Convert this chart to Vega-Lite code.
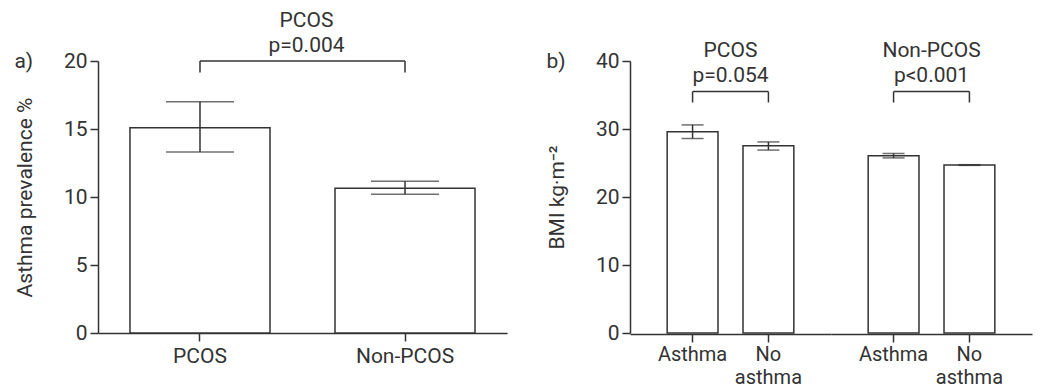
{
  "$schema": "https://vega.github.io/schema/vega-lite/v6.json",
  "background": "white",
  "padding": {"left": 14, "top": 10, "right": 5, "bottom": 0},
  "config": {
    "view": {"stroke": null},
    "font": "Roboto",
    "axis": {
      "domainColor": "#333333", "tickColor": "#333333", "labelColor": "#333333", "titleColor": "#333333",
      "domainWidth": 1.5, "tickWidth": 1.5, "labelFontSize": 21, "titleFontSize": 21, "titleFontWeight": "normal",
      "labelFont": "Roboto", "titleFont": "Roboto", "tickSize": 8, "grid": false, "labelPadding": 3
    },
    "title": {"fontSize": 21, "fontWeight": "normal", "color": "#333333", "font": "Roboto", "anchor": "start", "frame": "bounds"},
    "concat": {"spacing": 39}
  },
  "hconcat": [
    {
      "title": {"text": "a)", "dy": 66},
      "width": 409,
      "height": 272,
      "data": {"values": [
        {"group": "PCOS", "prev": 15.1, "lo": 13.3, "hi": 17.0},
        {"group": "Non-PCOS", "prev": 10.65, "lo": 10.2, "hi": 11.15}
      ]},
      "layer": [
        {
          "mark": {"type": "bar", "fill": "white", "stroke": "#333333", "strokeWidth": 1.5},
          "encoding": {
            "x": {"field": "group", "type": "nominal", "sort": ["PCOS", "Non-PCOS"], "scale": {"paddingInner": 0.317, "paddingOuter": 0.156}, "axis": {"title": null, "labelAngle": 0, "labelPadding": 4}},
            "y": {"field": "prev", "type": "quantitative", "scale": {"domain": [0, 20]}, "axis": {"title": "Asthma prevalence %", "values": [0, 5, 10, 15, 20], "titlePadding": 28}}
          }
        },
        {
          "mark": {"type": "rule", "color": "#333333", "strokeWidth": 1.5},
          "encoding": {
            "x": {"field": "group", "type": "nominal", "sort": ["PCOS", "Non-PCOS"]},
            "y": {"field": "lo", "type": "quantitative"},
            "y2": {"field": "hi"}
          }
        },
        {
          "mark": {"type": "tick", "color": "#333333", "thickness": 1.5, "size": 68},
          "encoding": {
            "x": {"field": "group", "type": "nominal", "sort": ["PCOS", "Non-PCOS"]},
            "y": {"field": "lo", "type": "quantitative"}
          }
        },
        {
          "mark": {"type": "tick", "color": "#333333", "thickness": 1.5, "size": 68},
          "encoding": {
            "x": {"field": "group", "type": "nominal", "sort": ["PCOS", "Non-PCOS"]},
            "y": {"field": "hi", "type": "quantitative"}
          }
        },
        {
          "mark": {"type": "line", "color": "#333333", "strokeWidth": 1.5},
          "encoding": {
            "x": {"field": "group", "type": "nominal", "sort": ["PCOS", "Non-PCOS"]},
            "y": {"datum": 20}
          }
        },
        {
          "mark": {"type": "rule", "color": "#333333", "strokeWidth": 1.5},
          "encoding": {
            "x": {"field": "group", "type": "nominal", "sort": ["PCOS", "Non-PCOS"]},
            "y": {"datum": 20},
            "y2": {"datum": 19.15}
          }
        },
        {
          "data": {"values": [{"name": "PCOS", "p": "p=0.004"}]},
          "mark": {"type": "text", "fontSize": 21, "color": "#333333", "baseline": "alphabetic", "dx": 4},
          "encoding": {"y": {"datum": 22.5}, "text": {"field": "name"}}
        },
        {
          "data": {"values": [{"name": "PCOS", "p": "p=0.004"}]},
          "mark": {"type": "text", "fontSize": 21, "color": "#333333", "baseline": "alphabetic", "dx": 4},
          "encoding": {"y": {"datum": 20.66}, "text": {"field": "p"}}
        }
      ]
    },
    {
      "title": {"text": "b)", "dy": 36},
      "data": {"values": [
        {"group": "PCOS", "status": "Asthma", "bmi": 29.6, "lo": 28.6, "hi": 30.6, "p": "p=0.054"},
        {"group": "PCOS", "status": "No asthma", "bmi": 27.55, "lo": 26.9, "hi": 28.1, "p": "p=0.054"},
        {"group": "Non-PCOS", "status": "Asthma", "bmi": 26.07, "lo": 25.75, "hi": 26.4, "p": "p<0.001"},
        {"group": "Non-PCOS", "status": "No asthma", "bmi": 24.7, "lo": 24.65, "hi": 24.75, "p": "p<0.001"}
      ]},
      "facet": {"column": {"field": "group", "type": "nominal", "sort": ["PCOS", "Non-PCOS"], "header": {"title": null, "labels": false}}},
      "spacing": 0,
      "spec": {
        "width": 201,
        "height": 272,
        "layer": [
          {
            "mark": {"type": "bar", "fill": "white", "stroke": "#333333", "strokeWidth": 1.5},
            "encoding": {
              "x": {"field": "status", "type": "nominal", "sort": ["Asthma", "No asthma"], "scale": {"paddingInner": 0.33, "paddingOuter": 0.49}, "axis": {"title": null, "labelAngle": 0, "labelPadding": 2, "labelFontSize": 20, "labelExpr": "split(datum.label, ' ')", "labelLineHeight": 23}},
              "y": {"field": "bmi", "type": "quantitative", "scale": {"domain": [0, 40]}, "axis": {"title": "BMI kg·m⁻²", "values": [0, 10, 20, 30, 40], "titlePadding": 28}}
            }
          },
          {
            "mark": {"type": "rule", "color": "#333333", "strokeWidth": 1.5},
            "encoding": {
              "x": {"field": "status", "type": "nominal", "sort": ["Asthma", "No asthma"]},
              "y": {"field": "lo", "type": "quantitative"},
              "y2": {"field": "hi"}
            }
          },
          {
            "mark": {"type": "tick", "color": "#333333", "thickness": 1.5, "size": 22},
            "encoding": {
              "x": {"field": "status", "type": "nominal", "sort": ["Asthma", "No asthma"]},
              "y": {"field": "lo", "type": "quantitative"}
            }
          },
          {
            "mark": {"type": "tick", "color": "#333333", "thickness": 1.5, "size": 22},
            "encoding": {
              "x": {"field": "status", "type": "nominal", "sort": ["Asthma", "No asthma"]},
              "y": {"field": "hi", "type": "quantitative"}
            }
          },
          {
            "mark": {"type": "line", "color": "#333333", "strokeWidth": 1.5},
            "encoding": {
              "x": {"field": "status", "type": "nominal", "sort": ["Asthma", "No asthma"]},
              "y": {"datum": 35.5}
            }
          },
          {
            "mark": {"type": "rule", "color": "#333333", "strokeWidth": 1.5},
            "encoding": {
              "x": {"field": "status", "type": "nominal", "sort": ["Asthma", "No asthma"]},
              "y": {"datum": 35.5},
              "y2": {"datum": 33.9}
            }
          },
          {
            "transform": [{"filter": "datum.status == 'Asthma'"}],
            "mark": {"type": "text", "fontSize": 21, "color": "#333333", "baseline": "alphabetic"},
            "encoding": {"y": {"datum": 40.63}, "text": {"field": "group"}}
          },
          {
            "transform": [{"filter": "datum.status == 'Asthma'"}],
            "mark": {"type": "text", "fontSize": 21, "color": "#333333", "baseline": "alphabetic"},
            "encoding": {"y": {"datum": 36.96}, "text": {"field": "p"}}
          }
        ]
      }
    }
  ]
}
